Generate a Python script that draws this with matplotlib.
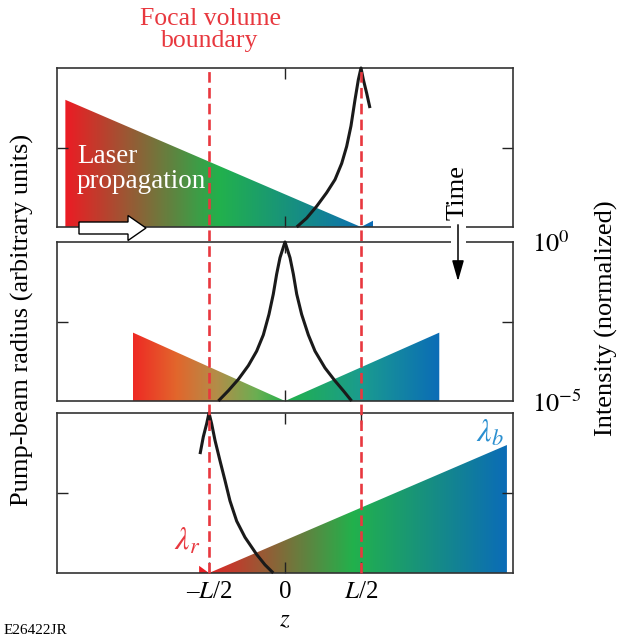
import numpy as np
import matplotlib
matplotlib.use('Agg')
import matplotlib.pyplot as plt
from matplotlib.colors import LinearSegmentedColormap
from matplotlib.patches import Polygon, FancyArrow, FancyArrowPatch, Rectangle
from matplotlib.lines import Line2D
from matplotlib.ticker import NullLocator
from matplotlib.transforms import blended_transform_factory

plt.rcParams['font.family'] = ['Liberation Serif', 'DejaVu Serif']
plt.rcParams['mathtext.fontset'] = 'stix'

# z is in units of L/2 (focal volume boundary at z = -1 and z = +1)
# pump-beam radius outline for each time step (arbitrary units, 0..1)
radius_z_t1 = [-2.89, 1.0, 1.16]
radius_r_t1 = [0.80, 0.0, 0.04]
radius_z_t2 = [-2.0, 0.0, 2.03]
radius_r_t2 = [0.43, 0.0, 0.43]
radius_z_t3 = [-1.13, -1.0, 2.92]
radius_r_t3 = [0.045, 0.0, 0.80]

# normalized intensity (log axis, 1e-5 .. 1)
int_z_t1 = [0.154, 0.285, 0.417, 0.548, 0.658, 0.746, 0.811, 0.868, 0.921, 0.965, 1.0, 1.031, 1.075, 1.118]
int_v_t1 = [1e-5, 1.9e-5, 4.5e-5, 1.2e-4, 3.1e-4, 1.0e-3, 3.4e-3, 1.5e-2, 0.10, 0.43, 1.0, 0.43, 0.16, 0.055]
int_z_t2 = [-0.877, -0.746, -0.614, -0.482, -0.373, -0.285, -0.211, -0.154, -0.110, -0.066, 0.0,
            0.066, 0.110, 0.154, 0.219, 0.307, 0.395, 0.526, 0.658, 0.768, 0.877]
int_v_t2 = [1e-5, 2.1e-5, 4.8e-5, 1.3e-4, 3.7e-4, 1.2e-3, 5.3e-3, 2.3e-2, 9.7e-2, 0.32, 1.0,
            0.32, 9.7e-2, 2.3e-2, 5.3e-3, 1.2e-3, 3.7e-4, 1.1e-4, 4.3e-5, 2.1e-5, 1e-5]
int_z_t3 = [-1.118, -1.075, -1.031, -1.0, -0.965, -0.921, -0.855, -0.789, -0.724, -0.636, -0.526, -0.373, -0.263, -0.154]
int_v_t3 = [0.052, 0.18, 0.46, 1.0, 0.46, 0.14, 0.032, 7.7e-3, 1.8e-3, 4.2e-4, 1.3e-4, 3.8e-5, 1.8e-5, 1e-5]

tick_pos = [-1, 0, 1]
tick_labels = ['–$L$/2', '0', '$L$/2']
boundary_z = [-1, 1]
int_ticks = [1, 1e-5]
int_tick_labels = ['$10^0$', '$10^{-5}$']

RED = '#e8383f'
BLUE = '#2a8fd0'
beam_cmap = LinearSegmentedColormap.from_list('beam', ['#ec1c24', '#22b14c', '#0b6cb7'])
# middle panel looks lighter / more orange on its red side
beam_cmap_mid = LinearSegmentedColormap.from_list(
    'beam_mid', [(0.0, '#ee2a24'), (0.14, '#e2662c'), (0.27, '#b48c48'),
                 (0.4, '#6cae52'), (0.5, '#22b14c'), (0.75, '#1a9b90'), (1.0, '#0b6cb7')])
beam_cmaps = [beam_cmap, beam_cmap_mid, beam_cmap]

W, H = 621, 637
fig = plt.figure(figsize=(W / 100, H / 100), dpi=100)
left, right = 57 / W, 513 / W
panels = [(68, 227), (242, 401), (413, 573)]


def draw_beam(ax, z, r, cmap):
    verts = [(z[0], 0)] + list(zip(z, r)) + [(z[-1], 0)]
    poly = Polygon(verts, closed=True, fc='none', ec='none')
    ax.add_patch(poly)
    grad = np.linspace(0, 1, 256).reshape(1, -1)
    im = ax.imshow(grad, cmap=cmap, extent=[z[0], z[-1], 0, max(r)],
                   aspect='auto', origin='lower', zorder=1, interpolation='bilinear')
    im.set_clip_path(poly)


beams = [(radius_z_t1, radius_r_t1), (radius_z_t2, radius_r_t2), (radius_z_t3, radius_r_t3)]
curves = [(int_z_t1, int_v_t1), (int_z_t2, int_v_t2), (int_z_t3, int_v_t3)]
axes = []
for i, (top, bot) in enumerate(panels):
    ax = fig.add_axes([left, 1 - bot / H, right - left, (bot - top) / H])
    draw_beam(ax, *beams[i], beam_cmaps[i])
    ax.set_xlim(-3, 3)
    ax.set_ylim(0, 1)

    tw = ax.twinx()
    tw.set_yscale('log')
    tw.set_ylim(1e-5, 1)
    tw.set_xlim(-3, 3)
    tw.plot(curves[i][0], curves[i][1], color='#1a1a1a', lw=2.2, clip_on=False,
            solid_joinstyle='round', solid_capstyle='butt')
    for s in tw.spines.values():
        s.set_visible(False)
    tw.yaxis.set_minor_locator(NullLocator())
    if i == 1:
        tw.set_yticks(int_ticks)
        tw.set_yticklabels(int_tick_labels)
        tw.tick_params(axis='y', length=0, pad=14, labelsize=19)
    else:
        tw.set_yticks([])

    # twinx moves the y ticks to the left only, so set the frame ticks afterwards
    ax.set_yticks([0.5])
    ax.set_xticks([0])
    ax.tick_params(direction='in', top=True, bottom=True, left=True, right=True,
                   length=8, width=1, labelbottom=False, labelleft=False,
                   labelright=False, color='#222222')
    for s in ax.spines.values():
        s.set_linewidth(1.2)
        s.set_color('#333333')
    axes.append(ax)

ax3 = axes[2]
ax3.set_xticks(tick_pos)
ax3.set_xticklabels(tick_labels)
ax3.tick_params(axis='x', labelbottom=True, labelsize=18, pad=6)
ax3.set_xlabel('$z$', fontsize=18, labelpad=4)

# focal volume boundaries across all panels
trans = blended_transform_factory(ax3.transData, fig.transFigure)
for zb in boundary_z:
    fig.add_artist(Line2D([zb, zb], [1 - 573 / H, 1 - 68 / H], transform=trans,
                          color=RED, lw=1.9, ls=(0, (4, 2)), zorder=5))

# text
fig.text(210 / W, 1 - 8 / H, 'Focal volume\nboundary', color=RED, fontsize=18.5,
         ha='center', va='top', linespacing=1.0)
fig.text(22 / W, 1 - 320 / H, 'Pump-beam radius (arbitrary units)', rotation=90,
         ha='center', va='center', fontsize=19)
fig.text(606 / W, 1 - 318 / H, 'Intensity (normalized)', rotation=90,
         ha='center', va='center', fontsize=19)
fig.text(77 / W, 1 - 144 / H, 'Laser\npropagation', color='white', fontsize=19.5,
         ha='left', va='top', linespacing=1.0, zorder=6)
fig.text(490 / W, 1 - 434 / H, r'$\lambda_b$', color=BLUE, fontsize=23,
         ha='center', va='center')
fig.text(187 / W, 1 - 542 / H, r'$\lambda_r$', color=RED, fontsize=23,
         ha='center', va='center')
fig.text(4 / W, 1 - 630 / H, 'E26422JR', fontsize=11, ha='left', va='center')

# laser propagation arrow
fig.add_artist(FancyArrow(79 / W, 1 - 228 / H, 67 / W, 0, width=12 / H,
                          head_width=25 / H, head_length=18 / W,
                          length_includes_head=True, transform=fig.transFigure,
                          fc='white', ec='black', lw=1, zorder=6))

# time arrow
fig.add_artist(Rectangle((451 / W, 1 - 246 / H), 15 / W, 23 / H, transform=fig.transFigure,
                         fc='white', ec='none', zorder=4))
fig.text(458 / W, 1 - 192 / H, 'Time', rotation=90, ha='center', va='center', fontsize=19)
fig.add_artist(FancyArrowPatch((458 / W, 1 - 222 / H), (458 / W, 1 - 284 / H),
                               transform=fig.transFigure,
                               arrowstyle='-|>,head_length=0.7,head_width=0.2',
                               mutation_scale=18, color='black', lw=1.1, zorder=6))

fig.savefig('out.png', dpi=100)
